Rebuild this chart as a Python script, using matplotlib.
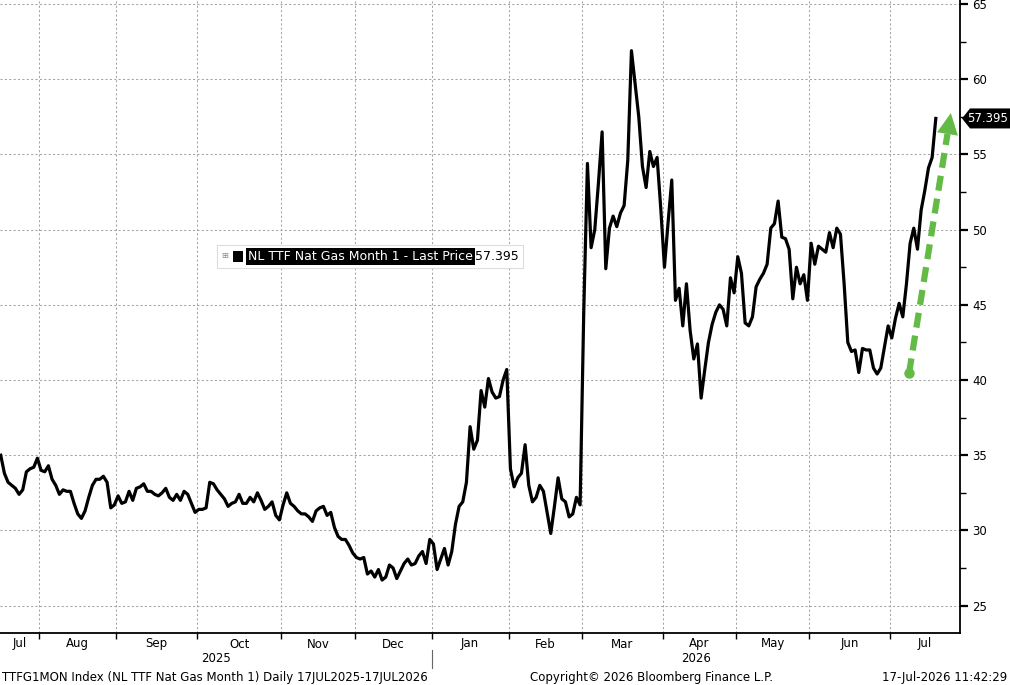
import numpy as np
import pandas as pd
import matplotlib
matplotlib.use('Agg')
import matplotlib.pyplot as plt
from matplotlib.patches import Rectangle, Polygon
from matplotlib.lines import Line2D
from matplotlib.transforms import blended_transform_factory, IdentityTransform

plt.rcParams['font.family'] = ['DejaVu Sans']
plt.rcParams['font.size'] = 8.5

W, H = 1010, 685

# trading calendar (daily, weekdays minus exchange holidays)
START, END = '2025-07-17', '2026-07-17'
HOLIDAYS = ['2025-12-25', '2025-12-26', '2026-01-01',
            '2026-04-03', '2026-04-06', '2026-05-25']

# NL TTF Nat Gas Month 1, last price (EUR/MWh)
PRICE = [
    35.0, 33.8, 33.2, 33.0, 32.8, 32.4, 32.7, 33.9, 34.1, 34.2,
    34.8, 34.0, 33.9, 34.3, 33.4, 33.0, 32.4, 32.7, 32.6, 32.6,
    31.8, 31.1, 30.8, 31.3, 32.2, 33.0, 33.4, 33.4, 33.6, 33.2,
    31.5, 31.7, 32.3, 31.8, 31.9, 32.6, 32.0, 32.8, 32.9, 33.1,
    32.6, 32.6, 32.4, 32.3, 32.5, 32.8, 32.2, 32.0, 32.4, 32.0,
    32.6, 32.4, 31.8, 31.2, 31.4, 31.4, 31.5, 33.2, 33.1, 32.7,
    32.4, 32.1, 31.6, 31.8, 31.9, 32.4, 31.8, 31.8, 32.2, 31.9,
    32.5, 32.0, 31.4, 31.6, 31.9, 31.0, 30.7, 31.7, 32.5, 31.8,
    31.6, 31.3, 31.1, 31.1, 30.9, 30.6, 31.3, 31.5, 31.6, 31.0,
    31.2, 30.2, 29.6, 29.4, 29.4, 29.0, 28.5, 28.2, 28.1, 28.2,
    27.1, 27.3, 26.9, 27.4, 26.7, 26.9, 27.7, 27.5, 26.8, 27.3,
    27.8, 28.1, 27.7, 27.8, 28.3, 28.6, 27.8, 29.4, 29.1, 27.4,
    28.1, 28.8, 27.7, 28.6, 30.4, 31.6, 31.9, 33.2, 36.9, 35.4,
    36.0, 39.3, 38.2, 40.1, 39.2, 38.8, 38.9, 40.0, 40.7, 34.1,
    32.9, 33.5, 33.8, 35.7, 33.0, 31.9, 32.2, 33.0, 32.6, 31.2,
    29.8, 31.6, 33.5, 32.1, 31.9, 30.9, 31.1, 32.2, 31.7, 44.6,
    54.4, 48.8, 50.0, 53.1, 56.5, 47.4, 50.1, 50.9, 50.2, 51.1,
    51.6, 54.6, 61.9, 59.7, 57.5, 54.2, 52.8, 55.2, 54.2, 54.8,
    51.4, 47.5, 50.5, 53.3, 45.3, 46.1, 43.6, 46.4, 43.3, 41.4,
    42.4, 38.8, 40.7, 42.5, 43.7, 44.5, 45.0, 44.7, 43.6, 46.8,
    45.8, 48.2, 47.1, 43.8, 43.6, 44.2, 46.2, 46.7, 47.1, 47.7,
    50.1, 50.4, 51.9, 49.5, 49.4, 48.7, 45.4, 47.5, 46.4, 47.0,
    45.3, 49.1, 47.7, 48.9, 48.7, 48.5, 49.8, 48.8, 50.1, 49.7,
    46.4, 42.5, 41.9, 42.0, 40.5, 42.1, 42.0, 42.0, 40.8, 40.4,
    40.8, 42.2, 43.6, 42.8, 44.1, 45.1, 44.2, 46.4, 49.1, 50.1,
    48.7, 51.3, 52.6, 54.1, 54.8, 57.395,
]

Y_TICKS = [25, 30, 35, 40, 45, 50, 55, 60, 65]
SERIES_NAME = 'NL TTF Nat Gas Month 1 - Last Price'
FOOT_LEFT = 'TTFG1MON Index (NL TTF Nat Gas Month 1) Daily 17JUL2025-17JUL2026'
FOOT_MID = 'Copyright\u00a9 2026 Bloomberg Finance L.P.'
FOOT_RIGHT = '17-Jul-2026 11:42:29'

# hand-drawn trend arrow: (trading day, price)
ARROW_FROM = (247.7, 40.45)
ARROW_TO = (259.1, 57.75)
GREEN = '#63bb46'

days = pd.bdate_range(START, END)
days = days[~days.isin(pd.to_datetime(HOLIDAYS))]
assert len(days) == len(PRICE), (len(days), len(PRICE))
x = np.arange(len(days))

fig = plt.figure(figsize=(W / 100, H / 100), dpi=100)
ax = fig.add_axes([0, 52 / H, 960 / W, 633 / H])

ax.plot(x, PRICE, color='black', lw=2.3, zorder=3)

XLIM = (-0.2, 261.6)
ax.set_xlim(*XLIM)
ax.set_ylim(23.18, 65.27)

# month boundaries
months = days.to_period('M')
starts = [i for i in range(len(days)) if i == 0 or months[i] != months[i - 1]]
bounds = [s - 0.5 for s in starts[1:]]
ax.set_xticks(bounds)
ax.set_xticklabels([])
ax.tick_params(axis='x', length=4, width=1, direction='out')

edges = [XLIM[0]] + bounds + [XLIM[1]]
trans = blended_transform_factory(ax.transData, ax.transAxes)
for i, s in enumerate(starts):
    c = (edges[i] + edges[i + 1]) / 2
    ax.text(c, -11 / 633, days[s].strftime('%b'), transform=trans,
            ha='center', va='center')

# year labels + separator
jan = [b for b, s in zip(bounds, starts[1:]) if days[s].month == 1][0]
for lo, hi, yr in [(XLIM[0], jan, '2025'), (jan, XLIM[1], '2026')]:
    ax.text((lo + hi) / 2, -26 / 633, yr, transform=trans,
            ha='center', va='center')
ax.add_line(Line2D([jan, jan], [-17 / 633, -35 / 633], transform=trans,
                   color='#666666', lw=0.8, clip_on=False))

# right axis
ax.yaxis.tick_right()
ax.set_yticks(Y_TICKS)
ax.set_yticks(np.arange(27.5, 65, 5), minor=True)
ax.tick_params(axis='y', which='major', length=6, width=1.6, pad=3, labelsize=8.5)
ax.tick_params(axis='y', which='minor', length=4, width=1)

for side in ['left', 'top']:
    ax.spines[side].set_visible(False)
for side in ['right', 'bottom']:
    ax.spines[side].set_linewidth(1.3)

ax.set_axisbelow(True)
ax.grid(True, which='major', ls=(0, (2, 2.2)), color='#a3a3a3', lw=0.75)

# trend arrow
x0, y0 = ARROW_FROM
x1, y1 = ARROW_TO
xb, yb = x0 + 0.92 * (x1 - x0), y0 + 0.92 * (y1 - y0)
ax.plot([x0, xb], [y0, yb], color=GREEN, lw=4.5, ls=(0, (2.4, 1.3)),
        dash_capstyle='butt', zorder=4)
ax.plot([x0], [y0], 'o', ms=6.5, color=GREEN, zorder=4)
ax.annotate('', xy=ARROW_TO, xytext=(x0 + 0.85 * (x1 - x0), y0 + 0.85 * (y1 - y0)),
            arrowprops=dict(arrowstyle='-|>,head_length=0.8,head_width=0.4',
                            color=GREEN, lw=0, shrinkA=0, shrinkB=0,
                            mutation_scale=19), zorder=4)

# last price tag on the axis
ident = IdentityTransform()
yp = ax.transData.transform((0, PRICE[-1]))[1]
fig.add_artist(Polygon([[962, yp], [970, yp + 10], [1010, yp + 10],
                        [1010, yp - 10], [970, yp - 10]],
                       closed=True, facecolor='black', edgecolor='none',
                       transform=ident))
fig.text(988 / W, yp / H, f'{PRICE[-1]:.3f}', color='white',
         ha='center', va='center', fontsize=8.5)

# legend box
fig.add_artist(Rectangle((217, H - 268), 306, 23, facecolor='white',
                         edgecolor='#dcdcdc', lw=0.8, transform=ident))
fig.text(225 / W, 1 - 256 / H, '\u229e', color='#888888',
         ha='center', va='center', fontsize=6)
fig.add_artist(Rectangle((233, H - 262), 10, 11, facecolor='black',
                         edgecolor='none', transform=ident))
fig.text(248 / W, 1 - 256.5 / H, SERIES_NAME, color='white', ha='left',
         va='center', fontsize=9,
         bbox=dict(facecolor='black', edgecolor='none', pad=1.5))
fig.text(475 / W, 1 - 256.5 / H, f'{PRICE[-1]:.3f}', color='black',
         ha='left', va='center', fontsize=9)

# footer
fy = 1 - 677 / H
fig.text(2 / W, fy, FOOT_LEFT, ha='left', va='center')
fig.text(652 / W, fy, FOOT_MID, ha='center', va='center')
fig.text(1007 / W, fy, FOOT_RIGHT, ha='right', va='center')

fig.savefig('out.png', dpi=100)
